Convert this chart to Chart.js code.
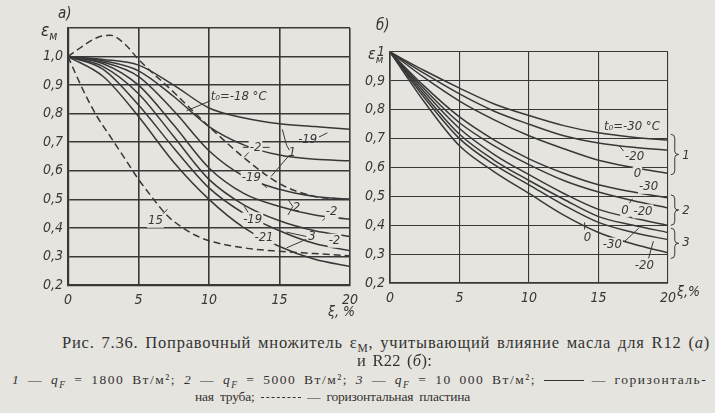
<!DOCTYPE html>
<html>
<head>
<meta charset="utf-8">
<script src="https://cdn.jsdelivr.net/npm/chart.js@4.4.1/dist/chart.umd.min.js"></script>
<style>
  body { margin:0; width:715px; height:413px; overflow:hidden; position:relative;
         background:#e6e4de; color:#333; font-family:'Liberation Serif','DejaVu Serif',serif; }
  #boxA { position:absolute; left:0; top:0; width:365px; height:320px; }
  #boxB { position:absolute; left:340px; top:0; width:375px; height:320px; }
  .ax { position:absolute; font-family:'Liberation Sans Narrow','DejaVu Sans Condensed','Liberation Sans',sans-serif;
        font-style:italic; color:#333; white-space:nowrap; }
  .ax sub { font-size:70%; }
  .cap { position:absolute; white-space:nowrap; }
  .cap i { font-style:italic; }
  .cap sub { font-size:70%; font-style:italic; }
  .solid { display:inline-block; width:40px; border-top:1.5px solid #333; vertical-align:middle; }
  .dash  { display:inline-block; width:40px; border-top:1.5px dashed #333; vertical-align:middle; }
</style>
</head>
<body>
<div id="boxA"><canvas id="chartA"></canvas></div>
<div id="boxB"><canvas id="chartB"></canvas></div>

<div class="ax" style="left:58px;top:4px;font-size:15px">а)</div>
<div class="ax" style="left:41px;top:20px;font-size:17px">ε<sub>м</sub></div>
<div class="ax" style="left:328px;top:303px;font-size:14px">ξ, %</div>
<div class="ax" style="left:376px;top:16px;font-size:15px">б)</div>
<div class="ax" style="left:368px;top:44px;font-size:16px">ε<sub>м</sub></div>
<div class="ax" style="left:677px;top:283px;font-size:14px">ξ,%</div>

<div class="cap" id="cap1" style="left:62px;top:333px;font-size:16.5px;word-spacing:2px">Рис. 7.36. Поправочный множитель ε<sub style="font-style:normal">М</sub>, учитывающий влияние масла для R12 (<i>а</i>)</div>
<div class="cap" id="cap2" style="left:357px;top:351px;font-size:16.5px;word-spacing:2px">и R22 (<i>б</i>):</div>
<div class="cap" id="cap3" style="left:12px;top:372px;font-size:13.5px;word-spacing:3px"><i>1</i> — <i>q<sub>F</sub></i> = 1800 Вт/м²; <i>2</i> — <i>q<sub>F</sub></i> = 5000 Вт/м²; <i>3</i> — <i>q<sub>F</sub></i> = 10 000 Вт/м²; <span class="solid"></span> — горизонталь-</div>
<div class="cap" id="cap4" style="left:195px;top:389px;font-size:13.5px;word-spacing:3px">ная труба; <span class="dash"></span> — горизонтальная пластина</div>

<script>
// ---------- ДАННЫЕ: а) R12 ----------
const xiA = [0, 2.5, 5, 7.5, 10, 12.5, 15, 17.5, 20];
const a1_m18 = [1.0, 0.99, 0.97, 0.90, 0.82, 0.785, 0.765, 0.755, 0.745];
const a1_m2  = [1.0, 0.985, 0.95, 0.86, 0.755, 0.69, 0.655, 0.64, 0.635];
const a2_m19 = [1.0, 0.98, 0.93, 0.81, 0.67, 0.58, 0.535, 0.51, 0.50];
const a2_m2  = [1.0, 0.975, 0.90, 0.76, 0.61, 0.52, 0.475, 0.445, 0.43];
const a3_m19 = [1.0, 0.965, 0.87, 0.72, 0.57, 0.48, 0.425, 0.39, 0.37];
const a3_m21 = [1.0, 0.955, 0.83, 0.68, 0.54, 0.45, 0.39, 0.345, 0.32];
const a3_m2  = [1.0, 0.93, 0.79, 0.63, 0.50, 0.40, 0.335, 0.29, 0.265];
// пластина (штрих)
const xiPlate19 = [0, 1, 2, 3, 4, 5, 7.5, 10, 12.5, 15, 17.5, 20];
const plate19   = [1.0, 1.035, 1.065, 1.075, 1.045, 0.99, 0.875, 0.755, 0.645, 0.555, 0.51, 0.50];
const xiPlate15 = [0, 1, 2, 3, 4, 5, 6, 7, 8, 9, 10, 12.5, 15, 17.5, 20];
const plate15   = [1.0, 0.89, 0.795, 0.72, 0.645, 0.57, 0.505, 0.445, 0.405, 0.375, 0.355, 0.33, 0.318, 0.31, 0.302];

// ---------- ДАННЫЕ: б) R22 ----------
const xiB = [0, 2.5, 5, 7.5, 10, 12.5, 15, 17.5, 20];
const b1_m30 = [1.0, 0.935, 0.875, 0.82, 0.78, 0.745, 0.72, 0.705, 0.695];
const b1_m20 = [1.0, 0.925, 0.855, 0.795, 0.75, 0.71, 0.685, 0.67, 0.66];
const b1_0   = [1.0, 0.91, 0.83, 0.765, 0.71, 0.665, 0.625, 0.60, 0.58];
const b2_m30 = [1.0, 0.88, 0.775, 0.695, 0.63, 0.58, 0.54, 0.515, 0.495];
const b2_m20 = [1.0, 0.87, 0.755, 0.675, 0.61, 0.555, 0.515, 0.485, 0.46];
const b2_0   = [1.0, 0.86, 0.735, 0.645, 0.575, 0.51, 0.455, 0.425, 0.40];
const b3_m30 = [1.0, 0.85, 0.715, 0.625, 0.555, 0.49, 0.43, 0.40, 0.375];
const b3_m20 = [1.0, 0.84, 0.70, 0.61, 0.54, 0.47, 0.41, 0.375, 0.35];
const b3_0   = [1.0, 0.825, 0.675, 0.585, 0.51, 0.435, 0.375, 0.335, 0.305];

const xTickVals = [0, 5, 10, 15, 20];

const INK = '#383838';
const PAPER = '#e6e4de';
const FONT = "'Liberation Sans Narrow','DejaVu Sans Condensed','Liberation Sans',sans-serif";

// подгонка ширины строк подписи (разрядка, как в книге)
function fit(id, target) {
  const el = document.getElementById(id);
  el.style.letterSpacing = '0px';
  const w = el.getBoundingClientRect().width;
  el.style.letterSpacing = ((target - w) / el.textContent.length) + 'px';
}
fit('cap1', 648);
fit('cap2', 75);
fit('cap3', 695);
fit('cap4', 275);

function pts(xs, ys) { return xs.map((x, i) => ({x: x, y: ys[i]})); }

function line(xs, ys, dashed) {
  return {
    data: pts(xs, ys),
    borderColor: INK, borderWidth: 1.5,
    borderDash: dashed ? [7, 4] : [],
    pointRadius: 0, fill: false,
    cubicInterpolationMode: 'monotone'
  };
}

// подписи кривых, выноски и фигурные скобки (в координатах графика)
function notes(labels, leaders, braces) {
  return {
    id: 'notes',
    afterDatasetsDraw(chart) {
      const ctx = chart.ctx, sx = chart.scales.x, sy = chart.scales.y;
      const P = p => [sx.getPixelForValue(p[0]), sy.getPixelForValue(p[1])];
      ctx.save();
      ctx.strokeStyle = INK; ctx.lineWidth = 1;
      leaders.forEach(l => {
        ctx.beginPath();
        l.forEach((p, i) => { const q = P(p); i ? ctx.lineTo(q[0], q[1]) : ctx.moveTo(q[0], q[1]); });
        ctx.stroke();
      });
      braces.forEach(b => {
        const t = P([b.x, b.y1]), e = P([b.x, b.y2]);
        const x = t[0], y1 = t[1], y2 = e[1], m = (y1 + y2) / 2;
        ctx.beginPath();
        ctx.moveTo(x, y1);
        ctx.quadraticCurveTo(x + 4, y1, x + 4, y1 + 4);
        ctx.lineTo(x + 4, m - 3);
        ctx.quadraticCurveTo(x + 4, m, x + 8, m);
        ctx.quadraticCurveTo(x + 4, m, x + 4, m + 3);
        ctx.lineTo(x + 4, y2 - 4);
        ctx.quadraticCurveTo(x + 4, y2, x, y2);
        ctx.stroke();
      });
      ctx.font = 'italic 13px ' + FONT;
      ctx.textAlign = 'center'; ctx.textBaseline = 'middle';
      labels.forEach(t => {
        const q = P([t.x, t.y]);
        const w = ctx.measureText(t.text).width;
        if (t.bg) { ctx.fillStyle = PAPER; ctx.fillRect(q[0] - w / 2 - 1, q[1] - 7, w + 2, 14); }
        ctx.fillStyle = INK;
        ctx.fillText(t.text, q[0], q[1]);
      });
      ctx.restore();
    }
  };
}

function axes(gridW, yW, xH, yMin, yMax, yLabel) {
  return {
    x: {
      type: 'linear', min: 0, max: 20,
      afterBuildTicks: s => { s.ticks = xTickVals.map(v => ({value: v})); },
      afterFit: s => { s.height = xH; },
      grid: { color: INK, lineWidth: gridW, drawTicks: false },
      border: { color: INK, width: gridW + 0.6 },
      ticks: { color: INK, padding: 7, font: { family: FONT, style: 'italic', size: 14 } }
    },
    y: {
      type: 'linear', min: yMin, max: yMax,
      ticks: { stepSize: 0.1, color: INK, padding: 5, font: { family: FONT, style: 'italic', size: 14 },
               callback: yLabel },
      afterFit: s => { s.width = yW; },
      grid: { color: INK, lineWidth: gridW, drawTicks: false },
      border: { color: INK, width: gridW + 0.6 }
    }
  };
}

const common = {
  responsive: true, maintainAspectRatio: false, animation: false,
  plugins: { legend: { display: false }, tooltip: { enabled: false } }
};

// ---------- а) ----------
const labelsA = [
  {text: 't₀=-18 °C', x: 12.1, y: 0.858},
  {text: '-2', x: 13.3, y: 0.682, bg: true},
  {text: '1', x: 15.9, y: 0.664},
  {text: '-19', x: 17.0, y: 0.71},
  {text: '-19', x: 13.0, y: 0.575, bg: true},
  {text: '2', x: 16.2, y: 0.47},
  {text: '-2', x: 18.7, y: 0.456, bg: true},
  {text: '-19', x: 13.1, y: 0.43, bg: true},
  {text: '-21', x: 13.9, y: 0.366, bg: true},
  {text: '3', x: 17.3, y: 0.368},
  {text: '-2', x: 18.9, y: 0.355, bg: true},
  {text: '15', x: 6.2, y: 0.425, bg: true}
];
const leadersA = [
  [[10.1, 0.845], [8.4, 0.81]],
  [[12.9, 0.668], [12.5, 0.648]],
  [[12.4, 0.682], [12.8, 0.682]], [[13.8, 0.682], [14.3, 0.682]],
  [[15.2, 0.745], [15.5, 0.69], [15.7, 0.672]],
  [[15.7, 0.655], [14.4, 0.58]],
  [[17.8, 0.718], [18.4, 0.733]],
  [[13.7, 0.558], [14.1, 0.54]],
  [[15.6, 0.50], [15.95, 0.475], [15.6, 0.445]],
  [[18.35, 0.44], [18.05, 0.425]],
  [[12.8, 0.452], [12.5, 0.476]],
  [[15.5, 0.385], [16.9, 0.37]], [[16.9, 0.36], [15.5, 0.33]],
  [[6.7, 0.447], [7.05, 0.465]]
];

new Chart(document.getElementById('chartA'), {
  type: 'line',
  data: { datasets: [
    line(xiA, a1_m18), line(xiA, a1_m2), line(xiA, a2_m19), line(xiA, a2_m2),
    line(xiA, a3_m19), line(xiA, a3_m21), line(xiA, a3_m2),
    line(xiPlate19, plate19, true), line(xiPlate15, plate15, true)
  ]},
  options: Object.assign({}, common, {
    layout: { padding: { top: 28, right: 13, left: 0, bottom: 0 } },
    scales: axes(1.6, 68, 35, 0.2, 1.1, v => v > 1.05 ? '' : v.toFixed(1).replace('.', ','))
  }),
  plugins: [notes(labelsA, leadersA, [])]
});

// ---------- б) ----------
const labelsB = [
  {text: 't₀=-30 °C', x: 17.4, y: 0.74},
  {text: '-20', x: 17.6, y: 0.637, bg: true},
  {text: '1', x: 21.3, y: 0.64},
  {text: '0', x: 17.8, y: 0.578, bg: true},
  {text: '-30', x: 18.6, y: 0.533, bg: true},
  {text: '0', x: 16.9, y: 0.452, bg: true},
  {text: '-20', x: 18.2, y: 0.448, bg: true},
  {text: '2', x: 21.3, y: 0.45},
  {text: '0', x: 14.2, y: 0.356, bg: true},
  {text: '-30', x: 16.0, y: 0.333, bg: true},
  {text: '3', x: 21.3, y: 0.34},
  {text: '-20', x: 18.3, y: 0.26, bg: true}
];
const leadersB = [
  [[16.8, 0.657], [16.5, 0.675]],
  [[17.2, 0.475], [17.45, 0.492]],
  [[14.0, 0.385], [14.0, 0.41]],
  [[16.9, 0.345], [17.9, 0.39]],
  [[18.6, 0.285], [18.95, 0.345]]
];
const bracesB = [
  {x: 20.2, y1: 0.715, y2: 0.575},
  {x: 20.2, y1: 0.505, y2: 0.40},
  {x: 20.2, y1: 0.39, y2: 0.285}
];

new Chart(document.getElementById('chartB'), {
  type: 'line',
  data: { datasets: [
    line(xiB, b1_m30), line(xiB, b1_m20), line(xiB, b1_0),
    line(xiB, b2_m30), line(xiB, b2_m20), line(xiB, b2_0),
    line(xiB, b3_m30), line(xiB, b3_m20), line(xiB, b3_0)
  ]},
  options: Object.assign({}, common, {
    layout: { padding: { top: 52, right: 47, left: 0, bottom: 0 } },
    scales: axes(1.1, 50, 37, 0.2, 1.0, v => v > 0.95 ? '1' : v.toFixed(1).replace('.', ','))
  }),
  plugins: [notes(labelsB, leadersB, bracesB)]
});
</script>
</body>
</html>
